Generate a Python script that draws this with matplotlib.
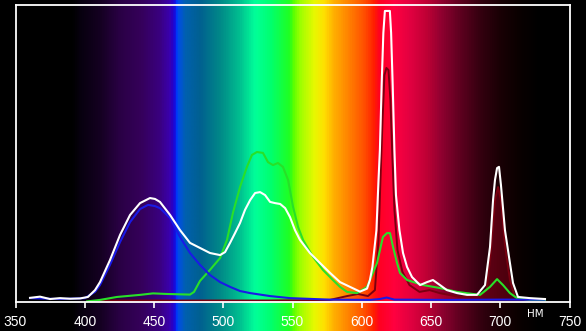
import numpy as np
import matplotlib
matplotlib.use("Agg")
import matplotlib.pyplot as plt
from matplotlib.colors import LinearSegmentedColormap

# background spectrum colours (wavelength, colour)
bg_nm = [338, 390, 397, 411, 425, 440, 454, 461, 464, 465.5, 468, 472, 483, 498, 512, 523,
         534, 548, 551, 556, 566, 573, 580, 591, 602, 609, 613, 624, 636, 647, 658, 671,
         686, 700, 714, 729, 762]
bg_col = ['#000000', '#000000', '#080010', '#150022', '#2a0045', '#35005a', '#3a0080', '#3a00b0',
          '#2000d0', '#0030ff', '#0050e0', '#0060b0', '#006090', '#008a88', '#00c090', '#00ff99',
          '#00ff70', '#20ff20', '#60ff00', '#a0ff00', '#e8f800', '#ffe000', '#ffb000', '#ff8000',
          '#ff5000', '#ff2000', '#ff0020', '#ff0040', '#e00040', '#c00035', '#900030', '#600020',
          '#350010', '#1a0005', '#0a0000', '#000000', '#000000']

# total (white)
w_nm = [360.5, 367.7, 374.9, 382.1, 389.4, 396.6, 402.3, 407.4, 411, 418.2, 425.5, 432.7, 439.9,
        447.1, 450.7, 454.3, 461.6, 468.8, 476, 483.2, 490.4, 497.7, 501.3, 504.9, 508.5, 512.1,
        515.7, 519.4, 523, 526.6, 530.2, 533.8, 537.4, 541.1, 544.7, 548.2, 551.8, 555.4, 562.6,
        569.9, 577.1, 584.3, 591.5, 598.7, 603.8, 605.9, 607.7, 610.6, 612.1, 613.1, 614.4, 615.6,
        616.7, 620.3, 621.2, 622.3, 623.6, 624.7, 627.2, 629.8, 632.7, 636.3, 642.1, 647.1, 651.4,
        656.5, 661.5, 668.8, 676, 683.2, 689, 692.6, 694.8, 696.2, 697.7, 699.1, 700.5, 703.4,
        707, 709.2, 712.8, 721.5, 732.3]
w_val = [0.014, 0.018, 0.010, 0.013, 0.011, 0.012, 0.017, 0.040, 0.067, 0.141, 0.226, 0.293, 0.333,
         0.350, 0.347, 0.337, 0.293, 0.242, 0.199, 0.182, 0.165, 0.158, 0.168, 0.199, 0.232, 0.266,
         0.310, 0.343, 0.367, 0.370, 0.360, 0.337, 0.333, 0.330, 0.316, 0.286, 0.242, 0.209, 0.165,
         0.131, 0.098, 0.067, 0.051, 0.035, 0.045, 0.074, 0.118, 0.242, 0.411, 0.512, 0.737, 0.906,
         0.980, 0.980, 0.906, 0.737, 0.512, 0.360, 0.242, 0.165, 0.118, 0.084, 0.057, 0.067, 0.074,
         0.057, 0.040, 0.030, 0.024, 0.024, 0.057, 0.185, 0.343, 0.411, 0.451, 0.455, 0.394, 0.242,
         0.131, 0.064, 0.017, 0.013, 0.010]

# blue channel
b_nm = [360.5, 382, 400, 407.4, 411, 418.2, 425.5, 432.7, 439.9, 445.7, 450.7, 454.3, 461.6, 468.8,
        476, 483.2, 490.4, 497.7, 504.9, 512.1, 519.4, 533.8, 548.2, 577, 605.9, 613, 618, 623.6,
        663.7, 699.8, 732]
b_val = [0.013, 0.010, 0.013, 0.034, 0.057, 0.125, 0.202, 0.269, 0.313, 0.327, 0.323, 0.316, 0.283,
         0.219, 0.165, 0.125, 0.091, 0.067, 0.051, 0.037, 0.030, 0.020, 0.013, 0.008, 0.007, 0.010,
         0.015, 0.008, 0.007, 0.008, 0.008]

# green channel
g_nm = [401.7, 411, 423.3, 439.9, 449.3, 459.4, 476, 478.9, 483.2, 490.4, 497.7, 502.7, 507, 512.1,
        517.1, 520.7, 524.3, 528.7, 532.3, 535.9, 539.5, 543.1, 546.8, 550.4, 554, 557.6, 564.8,
        572, 579.2, 584.3, 589.4, 596.6, 603.8, 611, 615.3, 618.2, 620.4, 622.6, 625.5, 627.6,
        632.7, 644.3, 656.5, 668.8, 685.4, 692.6, 697.7, 702, 707, 712.1, 721.5, 732.3]
g_val = [0.002, 0.007, 0.017, 0.024, 0.029, 0.027, 0.025, 0.034, 0.071, 0.108, 0.148, 0.209, 0.300,
         0.387, 0.455, 0.495, 0.505, 0.502, 0.471, 0.461, 0.468, 0.455, 0.411, 0.320, 0.253, 0.209,
         0.152, 0.108, 0.074, 0.051, 0.034, 0.030, 0.051, 0.131, 0.219, 0.232, 0.232, 0.185, 0.131,
         0.098, 0.074, 0.057, 0.047, 0.034, 0.024, 0.051, 0.077, 0.057, 0.030, 0.013, 0.007, 0.007]

# red channel
r_nm = [411, 533.8, 577, 589.4, 597.3, 604.5, 609.5, 612.1, 613.5, 615, 616.4, 617.8, 619.3, 620.7,
        622.2, 623.6, 625.8, 629.4, 634.5, 641.7, 649, 656.2, 670.6, 685, 690.2, 693.3, 696.2,
        698.4, 700.5, 703.4, 707, 710.6, 721.5]
r_val = [0.005, 0.005, 0.007, 0.020, 0.027, 0.020, 0.040, 0.209, 0.411, 0.613, 0.764, 0.788, 0.781,
         0.680, 0.478, 0.310, 0.175, 0.101, 0.057, 0.034, 0.040, 0.030, 0.017, 0.017, 0.040, 0.175,
         0.343, 0.387, 0.343, 0.192, 0.074, 0.017, 0.007]

ticks = [350, 400, 450, 500, 550, 600, 650, 700, 750]

W, H = 586, 331
fig = plt.figure(figsize=(W / 100, H / 100), dpi=100)
fig.patch.set_facecolor('black')

# axes frame in pixels
x0, x1, ytop, ybot = 15.5, 569.5, 5, 302
pxnm = (x1 - x0) / 400.0

# background gradient over the whole figure
bg = fig.add_axes([0, 0, 1, 1])
bl = 350 - x0 / pxnm
br = 750 + (W - x1) / pxnm
pos = [(v - bg_nm[0]) / (bg_nm[-1] - bg_nm[0]) for v in bg_nm]
cmap = LinearSegmentedColormap.from_list('spec', list(zip(pos, bg_col)))
grid = np.linspace(bl, br, 1200)
bg.imshow(grid[None, :], aspect='auto', cmap=cmap, vmin=bg_nm[0], vmax=bg_nm[-1],
          extent=[bl, br, 0, 1], interpolation='bilinear')
bg.set_xlim(bl, br)
bg.set_ylim(0, 1)
bg.axis('off')

ax = fig.add_axes([x0 / W, 1 - ybot / H, (x1 - x0) / W, (ybot - ytop) / H])
ax.patch.set_alpha(0)
ax.set_xlim(350, 750)
ax.set_ylim(0, 1)

ax.fill_between(r_nm, r_val, 0, color='#ff0030', alpha=0.25, lw=0)
ax.plot(r_nm, r_val, color='#7a0010', lw=1.4)
ax.plot(g_nm, g_val, color='#28e028', lw=1.5)
ax.plot(b_nm, b_val, color='#1a1ae6', lw=1.5)
ax.plot(w_nm, w_val, color='white', lw=1.5)

for s in ax.spines.values():
    s.set_color('white')
    s.set_linewidth(1.3)
ax.set_xticks(ticks)
ax.set_yticks([])
ax.tick_params(axis='x', colors='white', direction='out', length=4, width=1.2, pad=5,
               labelsize=10)
for lab in ax.get_xticklabels():
    lab.set_family('Liberation Sans')

ax.text(725, -0.04, 'НМ', color='white', fontsize=7.5, ha='center', va='center',
        family='DejaVu Sans', transform=ax.get_xaxis_transform())

fig.savefig('out.png', dpi=100, facecolor='black')
